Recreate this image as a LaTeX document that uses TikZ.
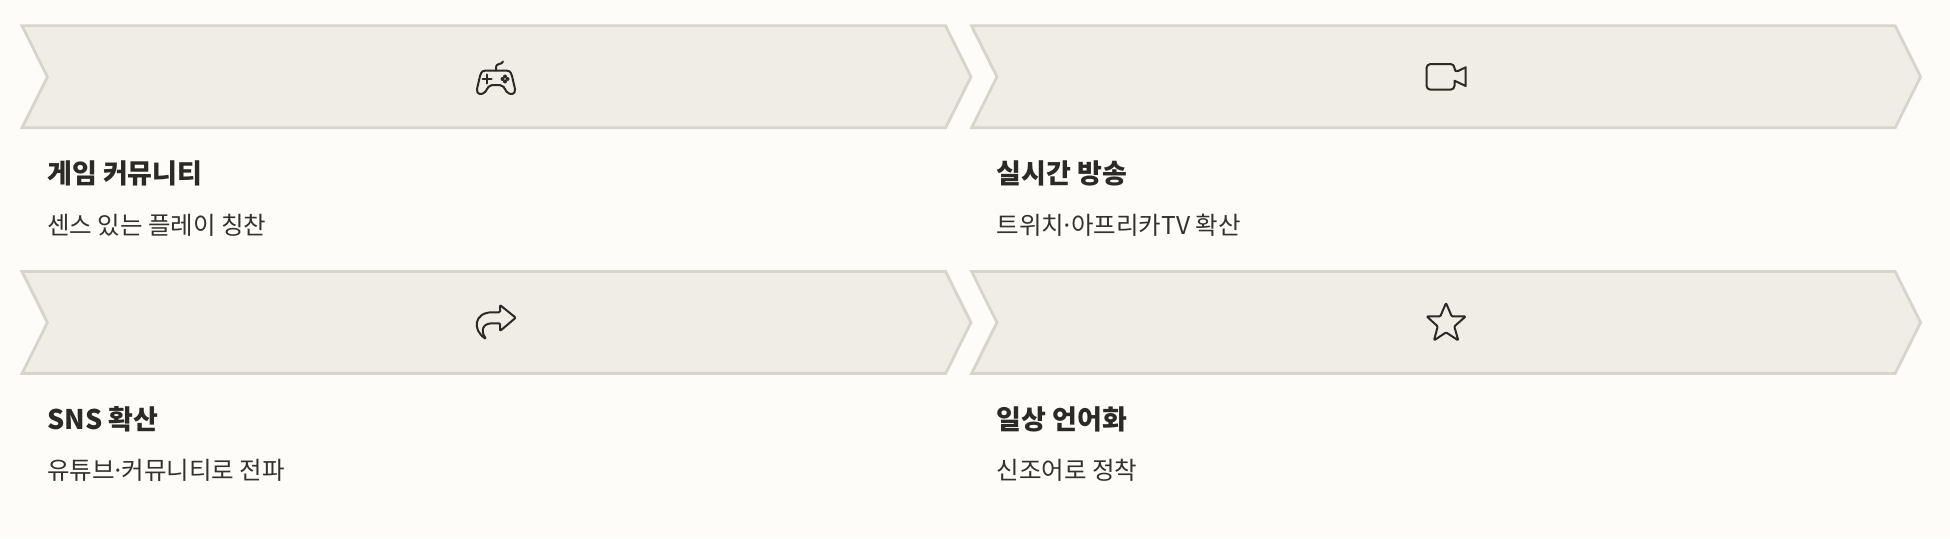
\documentclass[tikz,border=0pt]{standalone}
\usepackage{fontspec}
\setmainfont{Noto Sans CJK KR}
\usetikzlibrary{positioning,shapes.symbols}
\definecolor{pagebg}{HTML}{FDFCF9}
\definecolor{chevfill}{HTML}{F0EDE6}
\definecolor{chevline}{HTML}{D6D4CC}
\definecolor{titleink}{HTML}{2B2A26}
\definecolor{subink}{HTML}{33322D}
\definecolor{iconink}{HTML}{2B2A26}
\newcommand{\middot}{\kern-3.5pt·\kern-3.5pt}
\tikzset{
  chevron/.style={draw=chevline, fill=chevfill, line width=2.8pt, signal, signal from=west, signal to=east,
    signal pointer angle=127, minimum width=949pt, minimum height=102pt, inner sep=0pt, outer sep=0pt},
  headline/.style={font=\fontsize{27}{30}\selectfont\bfseries, text=titleink, inner sep=0pt, text height=24pt, text depth=4pt},
  subline/.style={font=\fontsize{24.5}{28}\selectfont, text=subink, inner sep=0pt, text height=22pt, text depth=4pt},
  iconline/.style={draw=iconink, line width=2pt, line join=round, line cap=round},
  pics/gamepadicon/.style={code={
    \draw[iconline] (-11,-9.3) -- (11,-9.3) .. controls (14.5,-9.3) and (15.5,-6) .. (16,-4)
      -- (19,9) .. controls (20,15) and (13.5,15.5) .. (10.5,11.5) -- (7.5,6.8) .. controls (6.5,5.5) and (5.5,5) .. (4,5)
      -- (-4,5) .. controls (-5.5,5) and (-6.5,5.5) .. (-7.5,6.8) -- (-10.5,11.5)
      .. controls (-13.5,15.5) and (-20,15) .. (-19,9) -- (-16,-4) .. controls (-15.5,-6) and (-14.5,-9.3) .. (-11,-9.3);
    \draw[iconline] (0,-9.3) -- (0,-13) .. controls (0,-17) and (6,-15) .. (7,-18.5);
    \draw[iconline] (-13.5,-1) -- (-4.5,-1) (-9,-5.5) -- (-9,3.5);
    \foreach \dotx/\doty in {6.5/-1,11.5/-1,9/-3.5,9/1.5}
      \fill[iconink] (\dotx,\doty) circle (2pt);
  }},
  pics/cameraicon/.style={code={
    \draw[iconline] (8.5,-4.3) -- (19.7,-9.7) -- (19.7,9) -- (8.5,3.7) [rounded corners=4pt] -- (8.5,12.7)
      -- (-19.5,12.7) -- (-19.5,-13) -- (8.5,-13) -- cycle;
  }},
  pics/shareicon/.style={code={
    \draw[iconline, rounded corners=1pt] (19.7,-4.3) -- (4,-17) -- (4,-9.7) -- (-2.7,-9.7)
      .. controls (-22,-9.7) and (-24,8) .. (-10,17) .. controls (-16,8) and (-13,1.3) .. (-2.7,1.3) -- (4,1.3) -- (4,9) -- cycle;
  }},
  pics/staricon/.style={code={
    \draw[iconline, rounded corners=1pt] (0,-21) -- (5.7,-7.6) -- (19.7,-7.6) -- (8.3,2.4) -- (12.3,16.4)
      -- (0,8.4) -- (-12,16.4) -- (-8.3,2.4) -- (-19.3,-7.6) -- (-5.7,-7.6) -- cycle;
  }},
}
\begin{document}
\begin{tikzpicture}[x=1pt, y=-1pt]
\useasboundingbox (0,0) rectangle (1950,538);
\fill[pagebg] (0,0) rectangle (1950,538);
% top row
\node[chevron] (gamechev) at (496.5,76.8) {};
\node[chevron, right=26pt of gamechev] (livechev) {};
% bottom row
\node[chevron, below=143.7pt of gamechev] (snschev) {};
\node[chevron, right=26pt of snschev] (dailychev) {};
% icons
\pic at (496,80) {gamepadicon};
\pic at (1446,77) {cameraicon};
\pic at (496,322) {shareicon};
\pic at (1446,324) {staricon};
% labels
\node[headline, anchor=north west, below right=31.7pt and 25pt of gamechev.south west] (gametitle) {게임 커뮤니티};
\node[subline, below=24pt of gametitle.south west, anchor=north west] (gamesub) {센스 있는 플레이 칭찬};
\node[headline, anchor=north west, below right=31.7pt and 25pt of livechev.south west] (livetitle) {실시간 방송};
\node[subline, below=24pt of livetitle.south west, anchor=north west] (livesub) {트위치\middot 아프리카TV 확산};
\node[headline, anchor=north west, below right=31.7pt and 25pt of snschev.south west] (snstitle) {SNS 확산};
\node[subline, below=24pt of snstitle.south west, anchor=north west] (snssub) {유튜브\middot 커뮤니티로 전파};
\node[headline, anchor=north west, below right=31.7pt and 25pt of dailychev.south west] (dailytitle) {일상 언어화};
\node[subline, below=24pt of dailytitle.south west, anchor=north west] (dailysub) {신조어로 정착};
\end{tikzpicture}
\end{document}
